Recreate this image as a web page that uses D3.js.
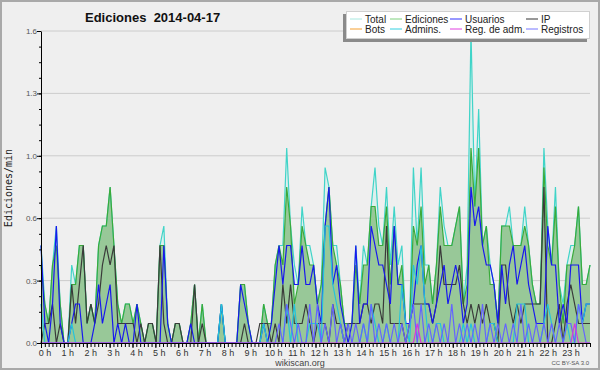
<!DOCTYPE html>
<html>
<head>
<meta charset="utf-8">
<script src="https://cdn.jsdelivr.net/npm/d3@7/dist/d3.min.js"></script>
<style>
  body { margin: 0; background: #efefef; }
  svg { display: block; }
</style>
</head>
<body>
<div id="chart"></div>
<script>
// edits per 10-minute slot (one row per hour, 6 slots each), shown as edits/min
var total = [
  5,2,1,4,6,2,  0,0,4,3,5,5,  1,2,1,5,6,6,  8,5,2,1,2,2,
  1,2,1,0,1,1,  0,5,6,1,0,1,  1,0,0,1,3,0,  2,0,0,0,0,2,
  0,0,0,0,3,3,  1,0,0,0,2,1,  1,4,5,5,10,6, 4,3,7,5,5,4,
  2,3,9,8,5,5,  3,1,1,1,5,2,  5,4,7,9,6,5,  8,4,7,4,5,1,
  1,9,5,9,4,4,  2,4,8,6,5,5,  6,7,2,4,16,7, 12,5,6,4,3,1,
  6,6,7,5,5,5,  7,5,3,2,2,10, 6,4,8,3,2,4,  5,5,7,3,3,4
];
var ediciones = [
  4,2,1,4,5,2,  0,0,3,3,5,5,  1,2,1,5,6,6,  8,5,2,1,2,2,
  1,2,1,0,1,1,  0,5,5,1,0,1,  1,0,0,1,3,0,  2,0,0,0,0,2,
  0,0,0,0,3,3,  1,0,0,0,2,1,  1,4,5,4,8,6,  2,3,6,5,4,4,
  2,3,6,8,5,4,  3,1,1,1,4,2,  4,4,7,7,5,5,  7,3,6,3,4,1,
  1,6,5,7,3,4,  2,4,7,5,5,5,  6,7,2,3,10,7, 10,5,6,3,3,1,
  6,6,6,5,5,5,  6,5,3,2,2,9,  5,4,7,3,1,4,  4,5,7,3,3,4
];
var usuarios = [
  5,1,0,2,6,1,  0,0,1,2,2,0,  0,0,1,3,1,2,  3,0,1,0,1,0,
  0,2,0,0,0,0,  0,0,5,1,0,0,  0,0,0,1,0,0,  0,0,0,0,0,2,
  0,0,0,0,3,2,  1,0,0,0,1,0,  1,3,5,3,5,5,  3,3,5,3,3,4,
  2,1,6,8,3,4,  2,1,0,1,5,1,  2,2,6,5,4,4,  3,2,6,3,3,1,
  1,2,4,5,2,2,  1,2,3,4,2,3,  4,3,1,2,8,6,  7,5,4,4,3,1,
  4,2,4,5,3,4,  5,3,2,1,1,1,  6,4,4,1,2,1,  4,4,4,1,2,2
];
var ip = [
  0,1,1,2,0,1,  0,0,3,1,3,5,  1,2,1,2,4,5,  4,5,1,1,1,1,
  1,0,1,0,1,1,  0,5,1,0,0,1,  1,0,0,0,3,0,  1,0,0,0,0,0,
  0,0,0,0,0,1,  0,0,0,1,1,1,  0,1,0,3,1,3,  1,1,1,2,1,0,
  1,1,1,0,2,1,  1,0,1,1,1,1,  2,2,1,2,2,1,  6,1,1,1,1,0,
  1,2,2,2,2,2,  1,2,5,3,3,3,  3,4,2,1,2,1,  2,1,2,1,1,0,
  4,4,2,1,2,1,  2,2,2,2,2,8,  0,0,1,2,0,2,  3,2,1,1,1,1
];
var admins = [
  2,0,0,0,0,0,  0,0,1,0,0,0,  0,0,0,0,0,0,  0,0,0,0,0,0,
  0,0,0,0,0,0,  0,0,0,0,0,0,  0,0,0,0,0,0,  0,0,0,0,0,2,
  0,0,0,0,0,0,  0,0,0,0,1,0,  0,0,0,0,2,0,  2,0,0,0,1,1,
  1,0,6,6,3,2,  1,0,0,0,0,0,  1,0,2,1,0,0,  1,0,0,0,3,1,
  0,4,3,5,2,0,  0,1,1,0,0,0,  0,0,1,0,1,0,  0,0,0,1,1,0,
  0,0,0,0,2,2,  2,0,0,0,0,1,  2,1,0,0,0,1,  0,0,2,1,2,2
];
var regAdm = [
  0,0,0,0,0,0,  0,0,0,0,0,0,  0,0,0,0,0,0,  0,0,0,0,0,0,
  0,0,0,0,0,0,  0,0,0,0,0,0,  0,0,0,0,0,0,  0,0,0,0,0,0,
  0,0,0,0,0,0,  0,0,0,0,0,0,  0,0,0,0,0,0,  0,0,0,0,0,0,
  0,0,0,0,0,0,  0,0,0,0,0,0,  0,0,0,0,0,0,  0,0,0,0,0,0,
  0,0,1,0,0,0,  0,0,0,0,0,0,  0,0,0,0,0,0,  0,0,0,0,0,0,
  0,0,0,0,0,0,  0,0,0,0,0,0,  0,0,0,0,0,0,  0,1,0,0,0,0
];
var registros = [
  0,0,0,0,0,0,  0,0,0,0,0,0,  0,0,0,0,0,0,  0,0,0,0,0,0,
  0,0,0,0,0,0,  0,0,0,0,0,0,  0,0,0,0,0,0,  0,0,0,0,0,0,
  0,0,0,0,0,0,  0,0,0,0,0,0,  0,0,1,0,2,1,  0,1,0,0,2,0,
  2,0,1,0,2,0,  1,0,1,0,1,0,  1,0,2,0,1,0,  1,0,1,0,1,0,
  1,2,0,2,0,1,  0,1,0,1,0,2,  0,1,0,1,0,1,  0,2,0,1,0,1,
  0,1,0,1,0,2,  0,1,0,1,0,1,  0,1,0,1,0,1,  1,0,2,1,0,0
];

var hourLabels = ["0 h","1 h","2 h","3 h","4 h","5 h","6 h","7 h","8 h","9 h","10 h","11 h",
                  "12 h","13 h","14 h","15 h","16 h","17 h","18 h","19 h","20 h","21 h","22 h","23 h"];
var yTicks = [0, 0.32, 0.64, 0.96, 1.28, 1.6];

var legendRows = [
  [["Total", "#a8e8e0"], ["Ediciones", "#7fd07f"], ["Usuarios", "#3333ff"], ["IP", "#333333"]],
  [["Bots", "#f5a030"], ["Admins.", "#33d0e0"], ["Reg. de adm.", "#e040e0"], ["Registros", "#7777ff"]]
];

var W = 600, H = 370;
var svg = d3.select("#chart").append("svg")
  .attr("width", W).attr("height", H)
  .style("font-family", "'Liberation Sans', Arial, sans-serif");

svg.append("rect").attr("x", 1).attr("y", 1).attr("width", W - 2).attr("height", H - 2)
  .attr("fill", "#efefef").attr("stroke", "#a9a9a9").attr("stroke-width", 2);

var x = d3.scaleLinear().domain([0, total.length - 1]).range([41, 590]);
var xh = d3.scaleLinear().domain([0, 24]).range([41, 590]);
var y = d3.scaleLinear().domain([0, 1.6]).range([343, 31]);

// grid
svg.append("g").selectAll("line").data(yTicks.slice(1)).enter().append("line")
  .attr("x1", 41).attr("x2", 590)
  .attr("y1", function(d) { return y(d); }).attr("y2", function(d) { return y(d); })
  .attr("stroke", "#cccccc").attr("stroke-width", 1);

var area = d3.area()
  .x(function(d, i) { return x(i); })
  .y0(y(0))
  .y1(function(d) { return y(d / 10); });
var line = d3.line()
  .x(function(d, i) { return x(i); })
  .y(function(d) { return y(d / 10); });

svg.append("path").datum(total).attr("d", area).attr("fill", "#ddefed");
svg.append("path").datum(ediciones).attr("d", area).attr("fill", "#98c898");

var series = [
  [total, "#40d4c8"],
  [ediciones, "#3aaa3a"],
  [ip, "#3a3a3a"],
  [usuarios, "#1818ee"],
  [admins, "#22c4dc"],
  [registros, "#6464ff"],
  [regAdm, "#dd33dd"]
];
series.forEach(function(s) {
  svg.append("path").datum(s[0]).attr("d", line)
    .attr("fill", "none").attr("stroke", s[1]).attr("stroke-width", 1.2)
    .attr("stroke-linejoin", "miter");
});

// y axis
var yMinor = d3.range(0, 1.6001, 0.08);
svg.append("g").attr("transform", "translate(41,0)")
  .call(d3.axisLeft(y).tickValues(yMinor).tickSize(2).tickFormat(""))
  .call(function(g) { g.select(".domain").remove(); });
var yAxis = svg.append("g").attr("transform", "translate(41,0)")
  .call(d3.axisLeft(y).tickValues(yTicks).tickSize(4).tickSizeOuter(0).tickFormat(d3.format(".1f")));
yAxis.selectAll("text").attr("font-size", 8).attr("fill", "#555").attr("x", -4)
  .attr("font-family", "'Liberation Sans', Arial, sans-serif");

// x axis
var xMinor = d3.range(0, 24.001, 1 / 6);
svg.append("g").attr("transform", "translate(0,343)")
  .call(d3.axisBottom(xh).tickValues(xMinor).tickSize(4).tickFormat(""))
  .call(function(g) { g.select(".domain").remove(); });
svg.append("g").attr("transform", "translate(0,343)")
  .call(d3.axisBottom(xh).tickValues(d3.range(24)).tickSize(5).tickSizeOuter(0).tickFormat(""));
svg.append("g").selectAll("text").data(hourLabels).enter().append("text")
  .attr("x", function(d, i) { return xh(i) + 4; })
  .attr("y", 356)
  .attr("text-anchor", "middle")
  .attr("font-size", 9).attr("fill", "#333")
  .text(function(d) { return d; });

// titles
svg.append("text").attr("x", 85).attr("y", 22)
  .attr("font-size", 13).attr("font-weight", "bold").attr("fill", "#111")
  .attr("xml:space", "preserve").style("white-space", "pre")
  .text("Ediciones  2014-04-17");
svg.append("text")
  .attr("transform", "translate(12,188) rotate(-90)")
  .attr("text-anchor", "middle")
  .attr("font-family", "'DejaVu Sans Mono', monospace")
  .attr("font-size", 10).attr("fill", "#222")
  .text("Ediciones/min");
svg.append("text").attr("x", 300).attr("y", 366).attr("text-anchor", "middle")
  .attr("font-size", 9).attr("fill", "#444").text("wikiscan.org");
svg.append("text").attr("x", 589).attr("y", 365).attr("text-anchor", "end")
  .attr("font-size", 6).attr("fill", "#555").text("CC BY-SA 3.0");

// legend
svg.append("rect").attr("x", 343).attr("y", 14).attr("width", 244).attr("height", 28).attr("fill", "#8a8a8a");
svg.append("rect").attr("x", 346.5).attr("y", 11.5).attr("width", 243).attr("height", 27)
  .attr("fill", "#ffffff").attr("stroke", "#d0d0d0");
var colX = [350, 390, 450, 526];
legendRows.forEach(function(row, r) {
  row.forEach(function(item, c) {
    var ly = 19 + r * 10;
    svg.append("line").attr("x1", colX[c]).attr("x2", colX[c] + 12)
      .attr("y1", ly).attr("y2", ly).attr("stroke", item[1]).attr("stroke-width", 1);
    svg.append("text").attr("x", colX[c] + 15).attr("y", ly + 3.5)
      .attr("font-size", 10).attr("fill", "#222").text(item[0]);
  });
});
</script>
</body>
</html>
